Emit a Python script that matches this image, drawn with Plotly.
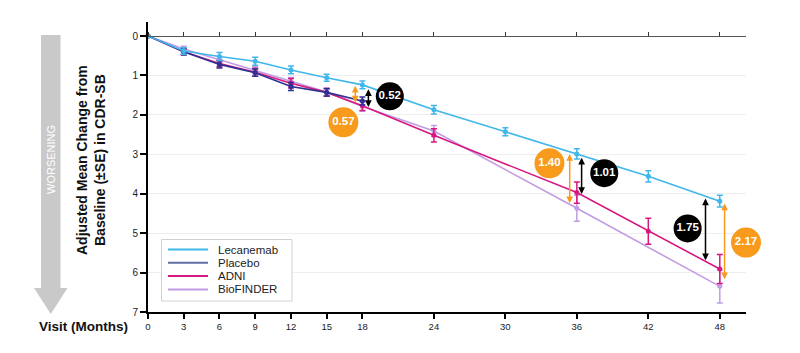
import numpy as np
import plotly.graph_objects as go

# ---------------- data ----------------
months_lec = [0, 3, 6, 9, 12, 15, 18, 24, 30, 36, 42, 48]
lec = [0, 0.38, 0.52, 0.64, 0.86, 1.06, 1.24, 1.87, 2.43, 2.99, 3.56, 4.19]
lec_se = [0, 0.08, 0.10, 0.10, 0.10, 0.09, 0.10, 0.11, 0.10, 0.13, 0.14, 0.15]

months_pbo = [0, 3, 6, 9, 12, 15, 18]
pbo = [0, 0.40, 0.72, 0.93, 1.28, 1.43, 1.65]
pbo_se = [0, 0.08, 0.09, 0.09, 0.10, 0.09, 0.10]

months_adni = [0, 3, 6, 9, 12, 15, 18, 24, 36, 42, 48]
adni = [0, 0.40, 0.70, 0.92, 1.20, 1.43, 1.77, 2.52, 3.97, 4.95, 5.91]
adni_se = [0, 0.07, 0.08, 0.10, 0.12, 0.10, 0.12, 0.17, 0.27, 0.33, 0.37]

months_bio = [0, 3, 6, 9, 12, 15, 18, 24, 36, 48]
bio = [0, 0.33, 0.60, 0.87, 1.15, 1.42, 1.79, 2.41, 4.37, 6.35]
bio_se = [0, 0.07, 0.08, 0.09, 0.10, 0.10, 0.12, 0.14, 0.33, 0.42]

diff_months = [18, 36, 48]
diff_adni = [0.52, 1.01, 1.75]
diff_bio = [0.57, 1.40, 2.17]

x_ticks = [0, 3, 6, 9, 12, 15, 18, 24, 30, 36, 42, 48]
y_ticks = [0, 1, 2, 3, 4, 5, 6, 7]
legend_names = ["Lecanemab", "Placebo", "ADNI", "BioFINDER"]

# ---------------- style / layout ----------------
FONT = "Arial, Liberation Sans, sans-serif"
C_LEC = "#3fb7ea"
C_PBO = "#2e3192"
C_ADNI = "#d7187f"
C_BIO = "#c29ce4"
C_ORANGE = "#f89b1c"
C_BLACK = "#000000"
LEGEND_COLORS = [C_LEC, "#5f6fa0", C_ADNI, C_BIO]

W, H = 800, 353
ML, MR, MT, MB = 148, 54, 22, 41
PW, PH = W - ML - MR, H - MT - MB
X_RANGE = [0, 50.2]
Y_RANGE = [7, -0.355]


def px2paper(px, py):
    return (px - ML) / PW, (H - MB - py) / PH


fig = go.Figure()

series = [
    ("BioFINDER", months_bio, bio, bio_se, C_BIO),
    ("ADNI", months_adni, adni, adni_se, C_ADNI),
    ("Placebo", months_pbo, pbo, pbo_se, C_PBO),
    ("Lecanemab", months_lec, lec, lec_se, C_LEC),
]
for name, xs, ys, se, col in series:
    fig.add_trace(go.Scatter(
        x=xs, y=ys, name=name, mode="lines+markers",
        line=dict(color=col, width=1.6),
        marker=dict(color=col, size=5),
        error_y=dict(type="data", array=se, visible=True, color=col,
                     thickness=1.5, width=3),
        cliponaxis=False, showlegend=False,
    ))

# invisible trace to anchor the top axis line at y = 0
fig.add_trace(go.Scatter(x=[0, 48], y=[0, 0], xaxis="x2", yaxis="y",
                         mode="lines", line=dict(width=0), showlegend=False,
                         hoverinfo="skip"))

# difference arrows (computed from the series)
arrow_specs = [
    (0, 0.5, "adni", C_BLACK), (1, 0.4, "adni", C_BLACK), (2, -1.2, "adni", C_BLACK),
    (0, -0.6, "bio", C_ORANGE), (1, -0.6, "bio", C_ORANGE), (2, 0.4, "bio", C_ORANGE),
]
for i, dx, comp, col in arrow_specs:
    xa = diff_months[i] + dx
    y_top = float(np.interp(xa, months_lec, lec)) + 0.02
    if comp == "adni":
        y_bot = float(np.interp(xa, months_adni, adni)) - 0.03
    else:
        y_bot = float(np.interp(xa, months_bio, bio)) - 0.03
    if i == 2 and comp == "bio":
        y_bot -= 0.15
    fig.add_annotation(x=xa, y=y_bot, ax=xa, ay=y_top, xref="x", yref="y",
                       axref="x", ayref="y", text="", showarrow=True,
                       arrowside="end+start", arrowhead=2, arrowsize=0.9,
                       arrowwidth=1.5, arrowcolor=col, standoff=0, startstandoff=0)

# difference bubbles
bubble_black = ([20.3, 38.3, 45.3], [1.53, 3.48, 4.88])
bubble_orange = ([16.4, 33.7, 50.2], [2.19, 3.23, 5.24])
for (bx, by), vals, col, sz in [(bubble_black, diff_adni, C_BLACK, 28),
                                (bubble_orange, diff_bio, C_ORANGE, 30)]:
    fig.add_trace(go.Scatter(
        x=bx, y=by, mode="markers+text", showlegend=False, hoverinfo="skip",
        marker=dict(color=col, size=sz, line=dict(width=0)),
        text=[f"{v:.2f}" for v in vals], textposition="middle center",
        textfont=dict(color="white", size=11.5, family=FONT, weight="bold"),
        cliponaxis=False,
    ))

# grey "worsening" arrow (decoration)
sx0, sx1, hx0, hx1 = 41, 60.5, 34, 67.5
top_y, base_y, tip_y = 35, 288, 314
pts = [(sx0, top_y), (sx1, top_y), (sx1, base_y), (hx1, base_y),
       ((hx0 + hx1) / 2, tip_y), (hx0, base_y), (sx0, base_y)]
pp = [px2paper(a, b) for a, b in pts]
path = "M " + " L ".join(f"{a:.5f},{b:.5f}" for a, b in pp) + " Z"
fig.add_shape(type="path", path=path, xref="paper", yref="paper",
              fillcolor="#c9c9c9", line=dict(width=0), layer="below")

wx, wy = px2paper(51, 160)
fig.add_annotation(x=wx, y=wy, xref="paper", yref="paper", text="WORSENING",
                   showarrow=False, textangle=-90, xanchor="center", yanchor="middle",
                   font=dict(family=FONT, size=11, color="white"))

tx, ty = px2paper(91, 160)
fig.add_annotation(x=tx, y=ty, xref="paper", yref="paper",
                   text="<b>Adjusted Mean Change from<br>Baseline (±SE) in CDR-SB</b>",
                   showarrow=False, textangle=-90, xanchor="center", yanchor="middle",
                   font=dict(family=FONT, size=14, color="#111"))

vx, vy = px2paper(83, 326)
fig.add_annotation(x=vx, y=vy, xref="paper", yref="paper",
                   text="<b>Visit (Months)</b>", showarrow=False,
                   xanchor="center", yanchor="middle",
                   font=dict(family=FONT, size=13.5, color="#111"))

# hand-built compact legend
bx0, by0 = px2paper(161.5, 239.5)
bx1, by1 = px2paper(292, 301)
fig.add_shape(type="rect", x0=bx0, y0=by0, x1=bx1, y1=by1, xref="paper",
              yref="paper", fillcolor="white", line=dict(color="#d0d0d0", width=1))
for k, (nm, col) in enumerate(zip(legend_names, LEGEND_COLORS)):
    yy = 249.5 + k * 13.3
    lx0, ly = px2paper(168, yy)
    lx1, _ = px2paper(208, yy)
    fig.add_shape(type="line", x0=lx0, x1=lx1, y0=ly, y1=ly, xref="paper",
                  yref="paper", line=dict(color=col, width=2))
    tx_, _ = px2paper(216, yy)
    fig.add_annotation(x=tx_, y=ly, xref="paper", yref="paper", text=nm,
                       showarrow=False, xanchor="left", yanchor="middle",
                       font=dict(family=FONT, size=11.5, color="#222"))

top_pos = (Y_RANGE[0] - 0) / (Y_RANGE[0] - Y_RANGE[1])

fig.update_layout(
    width=W, height=H,
    margin=dict(l=ML, r=MR, t=MT, b=MB),
    paper_bgcolor="white", plot_bgcolor="white",
    font=dict(family=FONT, color="#222"),
    showlegend=False,
    xaxis=dict(range=X_RANGE, tickmode="array", tickvals=x_ticks,
               ticktext=[str(v) for v in x_ticks],
               showline=True, linecolor="black", linewidth=2,
               ticks="outside", ticklen=5, tickwidth=1.5, tickcolor="black",
               showgrid=False, zeroline=False,
               tickfont=dict(size=9.5, color="#222")),
    xaxis2=dict(range=X_RANGE, overlaying="x", side="top", anchor="free",
                position=top_pos, tickmode="array", tickvals=x_ticks,
                showticklabels=False, showline=True, linecolor="#555",
                linewidth=1.3, ticks="outside", ticklen=4, tickwidth=1.2,
                tickcolor="#333", showgrid=False, zeroline=False),
    yaxis=dict(range=Y_RANGE, tickmode="array", tickvals=y_ticks,
               showline=True, linecolor="black", linewidth=2,
               ticks="outside", ticklen=6, tickwidth=1.5, tickcolor="black",
               showgrid=True, gridcolor="#eeeeee", gridwidth=1,
               zeroline=False, tickfont=dict(size=10, color="#222")),
)

fig.write_html("out.html")
